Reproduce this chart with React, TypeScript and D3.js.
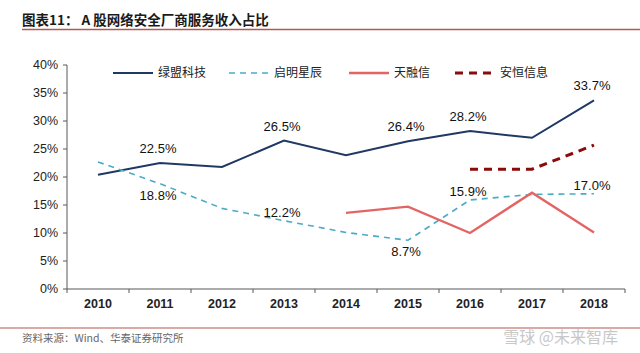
import React from "react";
import * as d3 from "d3";

const years = ["2010", "2011", "2012", "2013", "2014", "2015", "2016", "2017", "2018"];
const lvmeng: (number | null)[] = [20.4, 22.5, 21.8, 26.5, 23.9, 26.4, 28.2, 27.0, 33.7];
const qiming: (number | null)[] = [22.7, 18.8, 14.4, 12.2, 10.1, 8.7, 15.9, 16.9, 17.0];
const tianrong: (number | null)[] = [null, null, null, null, 13.6, 14.7, 10.0, 17.2, 10.1];
const anheng: (number | null)[] = [null, null, null, null, null, null, 21.4, 21.4, 25.7];
const yTicks = [0, 5, 10, 15, 20, 25, 30, 35, 40];
const seriesNames = ["绿盟科技", "启明星辰", "天融信", "安恒信息"];

// labels: [series index, year index, position]
const lvLabels = [1, 3, 5, 6, 8];
const qmLabelsAbove = [3, 6, 8];
const qmLabelsBelow = [1, 5];

const W = 640, H = 353;
const left = 67, right = 625, top = 65, bottom = 289;

export default function App() {
  const x = d3.scaleBand<string>().domain(years).range([left, right]);
  const y = d3.scaleLinear().domain([0, 40]).range([bottom, top]);
  const cx = (i: number) => (x(years[i]) as number) + x.bandwidth() / 2;
  const line = d3
    .line<number | null>()
    .defined((d) => d !== null)
    .x((_, i) => cx(i))
    .y((d) => y(d as number));

  const series = [
    { name: seriesNames[0], data: lvmeng, color: "#1F3864", width: 2, dash: "" },
    { name: seriesNames[1], data: qiming, color: "#4BACC6", width: 1.6, dash: "6,5" },
    { name: seriesNames[2], data: tianrong, color: "#E46464", width: 2.4, dash: "" },
    { name: seriesNames[3], data: anheng, color: "#8B0A0A", width: 3, dash: "8,6" },
  ];
  const legendX = [113, 229, 349, 455];
  const numFont = "'Liberation Sans', Arial, sans-serif";
  const cjk = "'Noto Sans CJK SC', sans-serif";

  return (
    <svg width={W} height={H} style={{ position: "absolute", left: 0, top: 0, background: "#fff" }}>
      <text x={22} y={25} fontFamily={cjk} fontWeight="bold" fontSize={13.5} fill="#1a1a1a">
        图表11：  A 股网络安全厂商服务收入占比
      </text>
      <line x1={22} x2={640} y1={29.5} y2={29.5} stroke="#B5584F" strokeWidth={1.5} />

      {/* axes */}
      <line x1={left} x2={left} y1={top} y2={bottom} stroke="#595959" strokeWidth={1} />
      <line x1={left} x2={right} y1={bottom} y2={bottom} stroke="#595959" strokeWidth={1.2} />
      {yTicks.map((t) => (
        <g key={t}>
          <line x1={left - 4} x2={left} y1={y(t)} y2={y(t)} stroke="#595959" />
          <text x={left - 9} y={y(t)} dy="0.35em" textAnchor="end" fontFamily={numFont} fontSize={12.5} fill="#222">
            {t}%
          </text>
        </g>
      ))}
      {years.concat(["end"]).map((yr, i) => {
        const xx = left + i * x.bandwidth();
        return <line key={yr} x1={xx} x2={xx} y1={bottom} y2={bottom + 4} stroke="#595959" />;
      })}
      {years.map((yr, i) => (
        <text key={yr} x={cx(i)} y={bottom + 19} textAnchor="middle" fontFamily={numFont} fontWeight="bold" fontSize={12.5} fill="#222">
          {yr}
        </text>
      ))}

      {/* lines */}
      {series.map((s) => (
        <path key={s.name} d={line(s.data) || ""} fill="none" stroke={s.color} strokeWidth={s.width} strokeDasharray={s.dash} />
      ))}

      {/* data labels */}
      {lvLabels.map((i) => (
        <text key={"lv" + i} x={cx(i) - 2} y={y(lvmeng[i] as number) - 10} textAnchor="middle" fontFamily={numFont} fontSize={13} fill="#111">
          {(lvmeng[i] as number).toFixed(1)}%
        </text>
      ))}
      {qmLabelsAbove.map((i) => (
        <text key={"qa" + i} x={cx(i) - 2} y={y(qiming[i] as number) - 4} textAnchor="middle" fontFamily={numFont} fontSize={13} fill="#111">
          {(qiming[i] as number).toFixed(1)}%
        </text>
      ))}
      {qmLabelsBelow.map((i) => (
        <text key={"qb" + i} x={cx(i) - 2} y={y(qiming[i] as number) + 16} textAnchor="middle" fontFamily={numFont} fontSize={13} fill="#111">
          {(qiming[i] as number).toFixed(1)}%
        </text>
      ))}

      {/* legend */}
      {series.map((s, k) => (
        <g key={"lg" + s.name}>
          <line x1={legendX[k]} x2={legendX[k] + 40} y1={73} y2={73} stroke={s.color} strokeWidth={s.width} strokeDasharray={s.dash} />
          <text x={legendX[k] + 45} y={73} dy="0.35em" fontFamily={cjk} fontSize={12} fill="#222">
            {s.name}
          </text>
        </g>
      ))}

      {/* footer */}
      <line x1={0} x2={640} y1={328} y2={328} stroke="#B5584F" strokeWidth={1.2} />
      <text x={22} y={342} fontFamily={cjk} fontSize={10.5} fill="#666">
        资料来源：Wind、华泰证券研究所
      </text>
      <text x={618} y={343} textAnchor="end" fontFamily={cjk} fontSize={16} fill="#c8c8c8">
        雪球 @未来智库
      </text>
    </svg>
  );
}
